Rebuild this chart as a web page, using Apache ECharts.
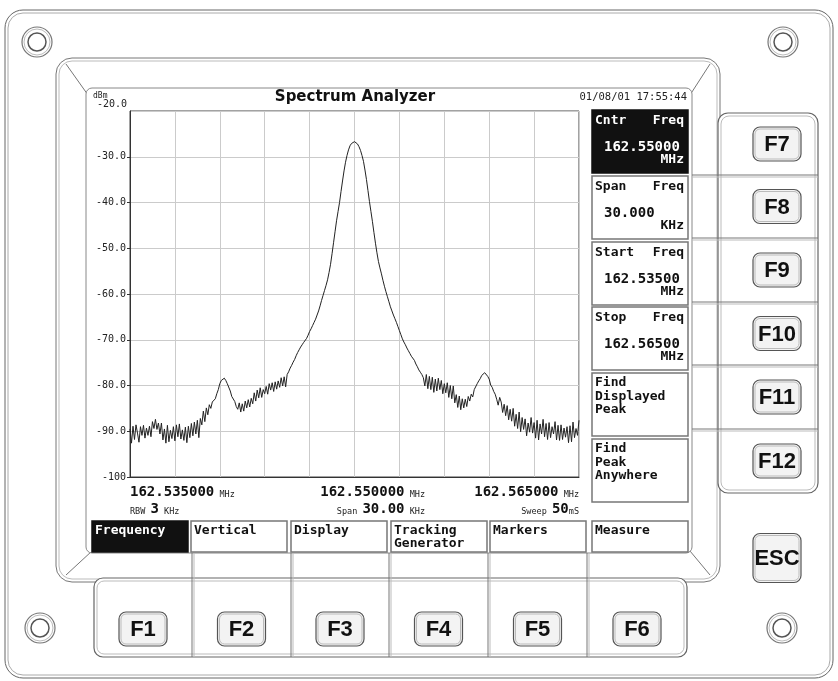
<!DOCTYPE html>
<html>
<head>
<meta charset="utf-8">
<title>Spectrum Analyzer</title>
<script src="https://cdn.jsdelivr.net/npm/echarts@6/dist/echarts.min.js"></script>
<style>
html, body { margin: 0; padding: 0; background: #fff; }
#main { width: 838px; height: 681px; }
</style>
</head>
<body>
<div id="main"></div>
<script>
// sweep: 30 kHz span starting at 162.535 MHz, one point per 0.1 kHz
var sweepStepKHz = 0.1;
var traceDbm = [
    -89.5, -92.6, -88.9, -91.8, -88.6, -90.4, -92.4, -89.0, -90.9, -88.7,
    -91.5, -89.3, -90.9, -88.9, -91.2, -87.9, -89.4, -87.4, -89.6, -88.2,
    -90.6, -88.2, -91.9, -89.5, -92.6, -88.7, -92.3, -89.8, -91.6, -89.0,
    -92.1, -88.6, -91.2, -88.4, -91.7, -89.7, -92.0, -89.1, -92.5, -88.9,
    -91.4, -88.3, -91.0, -88.0, -90.6, -87.6, -91.4, -87.2, -88.6, -85.6,
    -87.9, -84.9, -86.4, -84.2, -85.0, -83.6, -83.9, -82.9, -81.8, -80.9,
    -79.6, -78.9, -78.6, -78.4, -78.9, -79.6, -79.8, -81.2, -82.4, -82.0,
    -83.5, -84.6, -85.2, -83.8, -85.8, -84.0, -85.6, -83.4, -84.9, -83.1,
    -84.7, -82.8, -84.0, -81.6, -83.4, -81.0, -82.7, -80.5, -82.6, -80.9,
    -81.8, -80.2, -81.9, -79.6, -81.0, -79.4, -81.3, -79.2, -80.8, -79.0,
    -80.4, -78.3, -80.1, -78.1, -80.3, -77.6, -77.0, -76.2, -75.6, -74.9,
    -74.3, -73.5, -72.8, -72.2, -71.6, -71.1, -70.6, -70.2, -69.7, -69.0,
    -68.2, -67.6, -66.9, -66.2, -65.5, -64.6, -63.7, -62.6, -61.4, -60.3,
    -59.2, -58.1, -56.9, -55.3, -53.5, -51.2, -48.8, -46.4, -44.0, -42.0,
    -40.0, -37.6, -35.3, -33.1, -31.2, -29.7, -28.5, -27.6, -27.1, -26.8,
    -26.7, -26.9, -27.2, -27.8, -28.6, -29.7, -31.0, -32.9, -35.0, -37.4,
    -39.8, -42.0, -44.2, -46.6, -48.9, -51.0, -52.9, -54.3, -55.6, -57.0,
    -58.3, -59.5, -60.6, -61.7, -62.8, -63.7, -64.6, -65.4, -66.2, -67.1,
    -68.0, -68.9, -69.8, -70.5, -71.1, -71.8, -72.4, -73.0, -73.6, -74.0,
    -74.5, -75.3, -75.9, -76.6, -77.1, -77.6, -78.3, -80.1, -77.6, -80.7,
    -78.0, -80.9, -78.2, -81.5, -78.6, -81.2, -78.4, -80.9, -78.9, -81.8,
    -79.6, -81.6, -79.4, -82.6, -80.0, -82.9, -80.1, -83.8, -82.0, -84.8,
    -82.3, -85.3, -82.9, -84.9, -83.0, -84.6, -82.4, -83.4, -81.9, -82.5,
    -80.9, -80.5, -79.6, -79.0, -78.5, -77.8, -77.4, -77.2, -77.6, -78.0,
    -78.6, -79.9, -80.4, -81.3, -81.9, -83.0, -84.3, -82.6, -83.6, -85.9,
    -84.1, -86.6, -84.4, -87.5, -85.2, -87.8, -85.0, -88.9, -86.3, -89.4,
    -85.8, -90.1, -87.0, -89.6, -87.3, -91.0, -88.2, -90.2, -87.0, -90.4,
    -88.1, -91.5, -87.6, -91.9, -88.4, -90.6, -87.4, -91.2, -88.3, -91.8,
    -88.1, -91.4, -89.0, -90.6, -87.9, -91.9, -88.7, -92.0, -88.6, -91.8,
    -89.3, -91.3, -89.0, -92.5, -88.8, -92.3, -88.0, -91.4, -89.4, -90.9,
    -87.6
];
var freqLabels = ['162.535000', '162.550000', '162.565000'];
var infoLabels = [['RBW ', '3', ' KHz'], ['Span ', '30.00', ' KHz'], ['Sweep ', '50', 'mS']];
var menuTabs = ['Frequency', 'Vertical', 'Display', 'Tracking\nGenerator', 'Markers', 'Measure'];
var softKeys = [
    ['Cntr', 'Freq', '162.55000', 'MHz'],
    ['Span', 'Freq', '30.000', 'KHz'],
    ['Start', 'Freq', '162.53500', 'MHz'],
    ['Stop', 'Freq', '162.56500', 'MHz'],
    ['Find\nDisplayed\nPeak'],
    ['Find\nPeak\nAnywhere']
];
var sideKeys = ['F7', 'F8', 'F9', 'F10', 'F11', 'F12'];
var bottomKeys = ['F1', 'F2', 'F3', 'F4', 'F5', 'F6'];

var MONO = '"DejaVu Sans Mono"';
var KEYFONT = 'bold 22px "Liberation Sans"';

/* ---- small drawing helpers ---- */
function box(x, y, w, h, r, stroke, fill, lw, z) {
    return { type: 'rect', silent: true, z: z || 1,
        shape: { x: x, y: y, width: w, height: h, r: r || 0 },
        style: { fill: fill || 'none', stroke: stroke || '#777', lineWidth: lw || 1 } };
}
function seg(x1, y1, x2, y2, stroke, lw, z) {
    return { type: 'line', silent: true, z: z || 2,
        shape: { x1: x1, y1: y1, x2: x2, y2: y2 },
        style: { stroke: stroke || '#777', lineWidth: lw || 1 } };
}
function ring(cx, cy, r, stroke, lw) {
    return { type: 'circle', silent: true, z: 2,
        shape: { cx: cx, cy: cy, r: r },
        style: { fill: 'none', stroke: stroke, lineWidth: lw } };
}
function label(x, y, str, font, fill, align, z) {
    return { type: 'text', silent: true, z: z || 10, x: x, y: y,
        style: { text: str, font: font, fill: fill || '#111', align: align || 'left', verticalAlign: 'middle' } };
}
function fkey(cx, cy, w, h, txt) {
    return [
        box(cx - w / 2, cy - h / 2, w, h, 7, '#555', '#f3f3f3', 1.2, 5),
        box(cx - w / 2 + 2, cy - h / 2 + 2, w - 4, h - 4, 5, '#bbb', 'none', 1, 6),
        label(cx, cy + 1, txt, KEYFONT, '#111', 'center', 7)
    ];
}

var g = [];

// outer panel + screws
g.push(box(5, 10, 828, 668, 18, '#666', '#fff', 1, 0));
g.push(box(8, 13, 822, 662, 15, '#aaa', 'none', 1, 1));
[[37, 42], [783, 42], [40, 628], [782, 628]].forEach(function (p) {
    g.push(ring(p[0], p[1], 15, '#777', 1.2));
    g.push(ring(p[0], p[1], 13, '#bbb', 1));
    g.push(ring(p[0], p[1], 9, '#555', 1.5));
});

// screen bezel
g.push(box(56, 58, 664, 524, 16, '#777', 'none', 1, 1));
g.push(box(59, 61, 658, 518, 13, '#bbb', 'none', 1, 1));
g.push(seg(66, 64, 88, 95));
g.push(seg(710, 64, 690, 95));
g.push(seg(66, 575, 92, 551));
g.push(seg(710, 575, 690, 551));
g.push(box(86, 88, 606, 465, 6, '#888', '#fff', 1, 2));

// right function key column
g.push(box(718, 113, 100, 380, 10, '#666', '#fff', 1.2, 2));
g.push(box(721, 116, 94, 374, 8, '#bbb', 'none', 1, 3));
var sideY = [113, 175, 238, 302, 365, 429, 493];
for (var i = 1; i < sideY.length - 1; i++) {
    g.push(seg(692, sideY[i], 818, sideY[i], '#777', 1, 3));
    g.push(seg(692, sideY[i] + 2, 818, sideY[i] + 2, '#bbb', 1, 3));
}
sideKeys.forEach(function (k, i) {
    g = g.concat(fkey(777, (sideY[i] + sideY[i + 1]) / 2, 48, 34, k));
});
g = g.concat(fkey(777, 558, 48, 49, 'ESC'));

// bottom function key row
var botX = [94, 192, 291, 389, 488, 587, 687];
g.push(box(94, 578, 593, 79, 9, '#666', '#fff', 1.2, 2));
g.push(box(97, 581, 587, 73, 7, '#bbb', 'none', 1, 3));
for (var j = 1; j < botX.length - 1; j++) {
    g.push(seg(botX[j], 553, botX[j], 657, '#777', 1, 3));
    g.push(seg(botX[j] + 2, 553, botX[j] + 2, 657, '#bbb', 1, 3));
}
bottomKeys.forEach(function (k, i) {
    g = g.concat(fkey((botX[i] + botX[i + 1]) / 2, 629, 48, 34, k));
});

// soft key labels on screen
var softY = [110, 176, 242, 307, 373, 439];
softKeys.forEach(function (s, i) {
    var y = softY[i], on = (i === 0);
    var col = on ? '#fff' : '#111';
    g.push(box(592, y, 96, 63, 0, on ? '#111' : '#777', on ? '#111' : '#fff', 1.5, 4));
    if (s.length === 1) {
        g.push({ type: 'text', silent: true, z: 10, x: 595, y: y + 3,
            style: { text: s[0], font: 'bold 13px ' + MONO, fill: col, lineHeight: 13.5, align: 'left', verticalAlign: 'top' } });
    } else {
        g.push(label(595, y + 11, s[0], 'bold 13px ' + MONO, col));
        g.push(label(684, y + 11, s[1], 'bold 13px ' + MONO, col, 'right'));
        g.push(label(604, y + 37, s[2], 'bold 14px ' + MONO, col));
        g.push(label(684, y + 50, s[3], 'bold 13px ' + MONO, col, 'right'));
    }
});

// menu tabs
var tabX = [92, 191, 291, 391, 490, 592];
menuTabs.forEach(function (t, i) {
    var on = (i === 0);
    g.push(box(tabX[i], 521, 96, 31, 0, on ? '#111' : '#777', on ? '#111' : '#fff', 1.5, 4));
    g.push({ type: 'text', silent: true, z: 10, x: tabX[i] + 3, y: 524,
        style: { text: t, font: 'bold 13px ' + MONO, fill: on ? '#fff' : '#111', lineHeight: 13, align: 'left', verticalAlign: 'top' } });
});

// header texts
g.push(label(355, 97, 'Spectrum Analyzer', 'bold 15px "DejaVu Sans"', '#111', 'center'));
g.push(label(687, 97, '01/08/01 17:55:44', '10.5px ' + MONO, '#222', 'right'));
g.push(label(93, 96, 'dBm', '8px ' + MONO, '#222'));
g.push(label(127, 104, '-20.0', '10px ' + MONO, '#222', 'right'));

// frequency labels under the plot
var richBig = { fontFamily: MONO, fontWeight: 'bold', fontSize: 14, fill: '#111' };
var richSmall = { fontFamily: MONO, fontSize: 8.5, fill: '#222', verticalAlign: 'bottom' };
var freqPos = [[130, 'left'], [425, 'right'], [579, 'right']];
freqLabels.forEach(function (f, i) {
    g.push({ type: 'text', silent: true, z: 10, x: freqPos[i][0], y: 492,
        style: { text: '{b|' + f + '}{s| MHz}', align: freqPos[i][1], verticalAlign: 'middle',
            rich: { b: richBig, s: richSmall } } });
    var inf = infoLabels[i];
    g.push({ type: 'text', silent: true, z: 10, x: freqPos[i][0], y: 509,
        style: { text: '{s|' + inf[0] + '}{b|' + inf[1] + '}{s|' + inf[2] + '}', align: freqPos[i][1], verticalAlign: 'middle',
            rich: { b: richBig, s: richSmall } } });
});

var traceData = traceDbm.map(function (v, i) {
    return [+(i * sweepStepKHz).toFixed(1), v];
});

var chart = echarts.init(document.getElementById('main'));
var option = {
    backgroundColor: '#fff',
    animation: false,
    graphic: { elements: g },
    grid: { left: 130, top: 111, right: 259, bottom: 204, show: true, borderColor: '#444', borderWidth: 1, z: 20 },
    xAxis: {
        type: 'value', min: 0, max: 30, interval: 3, z: 20,
        axisLine: { show: true, lineStyle: { color: '#333' } },
        axisTick: { show: false },
        axisLabel: { show: false },
        splitLine: { show: true, lineStyle: { color: '#cbcbcb', width: 1 } }
    },
    yAxis: {
        type: 'value', min: -100, max: -20, interval: 10, z: 20,
        axisLine: { show: true, lineStyle: { color: '#333' } },
        axisTick: { show: true, length: 3, lineStyle: { color: '#333' } },
        axisLabel: {
            showMaxLabel: false, margin: 4, color: '#222', fontFamily: MONO, fontSize: 10,
            formatter: function (v) { return v === -100 ? '-100' : v.toFixed(1); }
        },
        splitLine: { show: true, lineStyle: { color: '#cbcbcb', width: 1 } }
    },
    series: [{
        type: 'line', z: 30, showSymbol: false, data: traceData,
        lineStyle: { color: '#222', width: 1 }
    }]
};
chart.setOption(option);
</script>
</body>
</html>
